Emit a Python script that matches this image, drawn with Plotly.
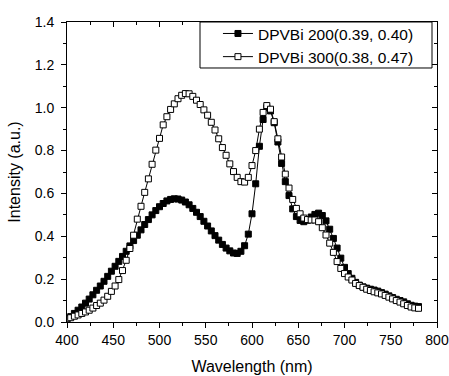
import plotly.graph_objects as go

wavelength = [400, 404, 408, 412, 416, 420, 424, 428, 432, 436, 440, 444, 448, 452, 456, 460,
              464, 468, 472, 476, 480, 484, 488, 492, 496, 500, 504, 508, 512, 516, 520, 524,
              528, 532, 536, 540, 544, 548, 552, 556, 560, 564, 568, 572, 576, 580, 584, 588,
              592, 596, 600, 604, 608, 612, 616, 620, 624, 628, 632, 636, 640, 644, 648, 652,
              656, 660, 664, 668, 672, 676, 680, 684, 688, 692, 696, 700, 704, 708, 712, 716,
              720, 724, 728, 732, 736, 740, 744, 748, 752, 756, 760, 764, 768, 772, 776, 780]

dpvbi_200 = [0.015, 0.025, 0.040, 0.055, 0.070, 0.088, 0.107, 0.127, 0.148, 0.168, 0.190, 0.213,
             0.237, 0.260, 0.283, 0.306, 0.330, 0.355, 0.380, 0.405, 0.430, 0.455, 0.478, 0.500,
             0.520, 0.538, 0.553, 0.565, 0.572, 0.575, 0.574, 0.569, 0.560, 0.547, 0.530, 0.512,
             0.492, 0.470, 0.448, 0.425, 0.403, 0.382, 0.362, 0.345, 0.332, 0.322, 0.320, 0.330,
             0.356, 0.410, 0.505, 0.645, 0.820, 0.945, 1.000, 0.985, 0.930, 0.840, 0.740, 0.655,
             0.590, 0.528, 0.492, 0.474, 0.468, 0.475, 0.490, 0.502, 0.508, 0.497, 0.472, 0.433,
             0.390, 0.345, 0.298, 0.255, 0.226, 0.204, 0.185, 0.172, 0.164, 0.158, 0.153, 0.149,
             0.144, 0.137, 0.130, 0.122, 0.114, 0.106, 0.100, 0.094, 0.085, 0.078, 0.074, 0.072]

dpvbi_300 = [0.015, 0.020, 0.027, 0.033, 0.040, 0.047, 0.055, 0.065, 0.077, 0.088, 0.102, 0.120,
             0.143, 0.168, 0.198, 0.240, 0.288, 0.343, 0.405, 0.480, 0.540, 0.605, 0.668, 0.736,
             0.802, 0.857, 0.920, 0.958, 0.992, 1.018, 1.042, 1.058, 1.066, 1.065, 1.053, 1.035,
             1.015, 0.990, 0.965, 0.932, 0.896, 0.855, 0.814, 0.778, 0.738, 0.702, 0.675, 0.655,
             0.653, 0.675, 0.730, 0.800, 0.900, 0.978, 1.010, 0.993, 0.935, 0.855, 0.770, 0.690,
             0.625, 0.572, 0.530, 0.505, 0.485, 0.478, 0.476, 0.476, 0.468, 0.440, 0.406, 0.368,
             0.325, 0.282, 0.250, 0.226, 0.210, 0.196, 0.180, 0.170, 0.162, 0.153, 0.147, 0.141,
             0.136, 0.131, 0.124, 0.116, 0.108, 0.100, 0.093, 0.085, 0.077, 0.070, 0.066, 0.064]

series_names = ["DPVBi 200(0.39, 0.40)", "DPVBi 300(0.38, 0.47)"]

x_ticks = [400, 450, 500, 550, 600, 650, 700, 750, 800]
x_minor = [425, 475, 525, 575, 625, 675, 725, 775]
y_ticks = [0.0, 0.2, 0.4, 0.6, 0.8, 1.0, 1.2, 1.4]
y_minor = [0.1, 0.3, 0.5, 0.7, 0.9, 1.1, 1.3]

FONT = "Liberation Sans, Arial, sans-serif"

fig = go.Figure()
fig.add_trace(go.Scatter(
    x=wavelength, y=dpvbi_200, name=series_names[0], mode="lines+markers",
    line=dict(color="black", width=1),
    marker=dict(symbol="square", size=6, color="black", line=dict(color="black", width=1)),
))
fig.add_trace(go.Scatter(
    x=wavelength, y=dpvbi_300, name=series_names[1], mode="lines+markers",
    line=dict(color="black", width=1),
    marker=dict(symbol="square", size=6, color="white", line=dict(color="black", width=1)),
))
# invisible helper trace to activate the mirrored top/right axes
fig.add_trace(go.Scatter(x=[wavelength[0]], y=[dpvbi_200[0]], xaxis="x2", yaxis="y2",
                         mode="markers", marker=dict(opacity=0), showlegend=False,
                         hoverinfo="skip"))

# legend frame (drawn as a shape so the box can be wider than plotly's legend)
fig.add_shape(type="rect", xref="paper", yref="paper",
              x0=0.3595, x1=0.9865, y0=0.8467, y1=1.0,
              line=dict(color="black", width=1), fillcolor="white", layer="above")

fig.update_layout(
    width=449, height=376,
    margin=dict(l=67, r=12, t=22, b=54),
    paper_bgcolor="white", plot_bgcolor="white",
    font=dict(family=FONT, size=14, color="black"),
    showlegend=True,
    legend=dict(
        x=0.408, y=1.017, xanchor="left", yanchor="top",
        bgcolor="rgba(0,0,0,0)", borderwidth=0,
        font=dict(family=FONT, size=15.5, color="black"),
        tracegroupgap=0, itemwidth=30,
    ),
    xaxis=dict(
        range=[400, 800], tickvals=x_ticks, automargin=False,
        showline=True, linecolor="black", linewidth=1, mirror=False,
        ticks="outside", ticklen=5, tickcolor="black", showgrid=False, zeroline=False,
        minor=dict(tickvals=x_minor, ticks="outside", ticklen=3, tickcolor="black", showgrid=False),
        title=dict(text="Wavelength (nm)", font=dict(family=FONT, size=16), standoff=14),
        tickfont=dict(family=FONT, size=14),
    ),
    yaxis=dict(
        range=[0, 1.4], tickvals=y_ticks, tickformat=".1f", automargin=False,
        showline=True, linecolor="black", linewidth=1, mirror=False,
        ticks="outside", ticklen=5, tickcolor="black", showgrid=False, zeroline=False,
        minor=dict(tickvals=y_minor, ticks="outside", ticklen=3, tickcolor="black", showgrid=False),
        title=dict(text="Intensity (a.u.)", font=dict(family=FONT, size=16), standoff=10),
        tickfont=dict(family=FONT, size=14), ticklabelstandoff=4,
    ),
    xaxis2=dict(
        overlaying="x", side="top", matches="x", range=[400, 800], automargin=False,
        tickvals=x_ticks, showticklabels=False,
        showline=True, linecolor="black", linewidth=1,
        ticks="inside", ticklen=5, tickcolor="black", showgrid=False, zeroline=False,
        minor=dict(tickvals=x_minor, ticks="inside", ticklen=3, tickcolor="black", showgrid=False),
    ),
    yaxis2=dict(
        overlaying="y", side="right", matches="y", range=[0, 1.4], automargin=False,
        tickvals=y_ticks, showticklabels=False,
        showline=True, linecolor="black", linewidth=1,
        ticks="inside", ticklen=5, tickcolor="black", showgrid=False, zeroline=False,
        minor=dict(tickvals=y_minor, ticks="inside", ticklen=3, tickcolor="black", showgrid=False),
    ),
)

# remove the default 8px page margin so the figure fills the window exactly
fig.write_html("out.html", config={"displayModeBar": False},
               post_script="document.body.style.margin='0';")
